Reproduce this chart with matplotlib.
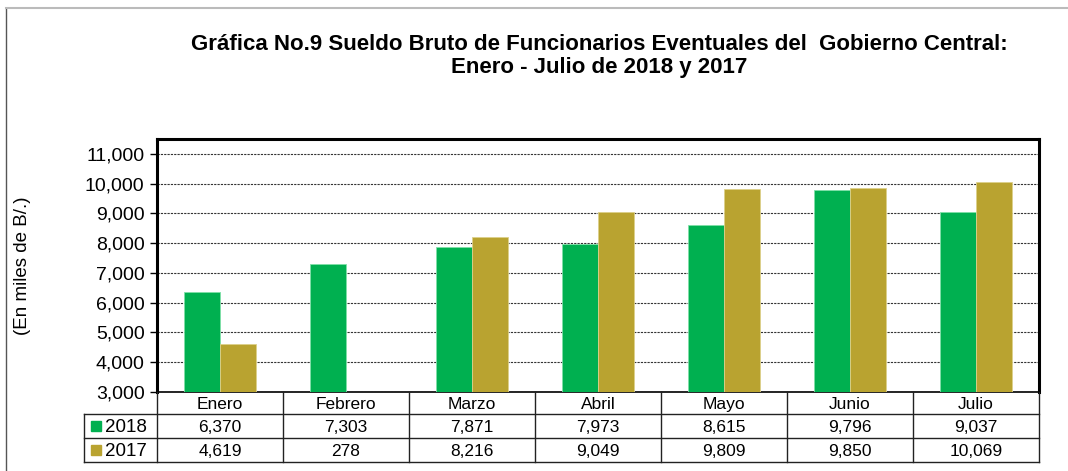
import numpy as np
import matplotlib
matplotlib.use("Agg")
from matplotlib import pyplot as plt
from matplotlib.lines import Line2D
from matplotlib.patches import Rectangle

# datos
meses = ["Enero", "Febrero", "Marzo", "Abril", "Mayo", "Junio", "Julio"]
anio_2018 = [6370, 7303, 7871, 7973, 8615, 9796, 9037]
anio_2017 = [4619, 278, 8216, 9049, 9809, 9850, 10069]
series = ["2018", "2017"]
colores = ["#00B050", "#B9A330"]

W, H = 1068, 471
plt.rcParams['font.family'] = ['Liberation Sans', 'DejaVu Sans']

fig = plt.figure(figsize=(W / 100, H / 100), dpi=100)

def fx(px):
    return px / W

def fy(py):
    return 1 - py / H

# borde exterior
fig.add_artist(Line2D([fx(6), fx(6)], [fy(8), 0], color="#555555", lw=1))
fig.add_artist(Line2D([fx(6), 1], [fy(8), fy(8)], color="#bbbbbb", lw=1.5))

izq, der, arriba, abajo = 157, 1039, 139, 392
ax = fig.add_axes([fx(izq), fy(abajo), fx(der - izq), fy(arriba) - fy(abajo)])

x = np.arange(len(meses))
ancho = 0.285
ax.bar(x - ancho / 2, anio_2018, ancho, color=colores[0], edgecolor="#7fe0a8", linewidth=0.6, zorder=3)
ax.bar(x + ancho / 2, anio_2017, ancho, color=colores[1], edgecolor="#ddd08a", linewidth=0.6, zorder=3)

ax.set_xlim(-0.5, len(meses) - 0.5)
ax.set_ylim(3000, 11500)
ax.set_yticks(np.arange(3000, 11001, 1000))
ax.set_yticklabels([f"{v:,}" for v in range(3000, 11001, 1000)], fontsize=14)
ax.set_xticks([])
ax.tick_params(axis="y", direction="out", length=5, width=1, pad=4)
ax.grid(axis="y", linestyle=(0, (2, 1)), color="#333333", linewidth=0.8, zorder=1)
for s in ["left", "top", "right"]:
    ax.spines[s].set_linewidth(2.2)
    ax.spines[s].set_color("black")
ax.spines["bottom"].set_linewidth(1.2)

ax.set_ylabel("(En miles de B/.)", fontsize=13.5)
ax.yaxis.set_label_coords(-(izq - 31) / (der - izq), 0.5)

# tabla de datos
leyenda_izq = 84
filas_y = [392, 414, 438, 462]
ancho_cat = (der - izq) / len(meses)
lc = "#222222"
for yy in filas_y[1:]:
    fig.add_artist(Line2D([fx(leyenda_izq), fx(der)], [fy(yy), fy(yy)], color=lc, lw=1))
fig.add_artist(Line2D([fx(leyenda_izq), fx(leyenda_izq)], [fy(414), fy(462)], color=lc, lw=1))
for i in range(len(meses) + 1):
    xx = izq + i * ancho_cat
    fig.add_artist(Line2D([fx(xx), fx(xx)], [fy(392), fy(462)], color=lc, lw=1))

tam = 12.5
for i, m in enumerate(meses):
    cx = izq + (i + 0.5) * ancho_cat
    fig.text(fx(cx), fy(403), m, ha="center", va="center_baseline", fontsize=tam)
    fig.text(fx(cx), fy(426), f"{anio_2018[i]:,}", ha="center", va="center_baseline", fontsize=tam)
    fig.text(fx(cx), fy(450), f"{anio_2017[i]:,}", ha="center", va="center_baseline", fontsize=tam)

for j, (nombre, col) in enumerate(zip(series, colores)):
    yc = [426, 450][j]
    fig.add_artist(Rectangle((fx(91), fy(yc + 5)), fx(10), fy(yc - 5) - fy(yc + 5), color=col))
    fig.text(fx(105), fy(yc), nombre, ha="left", va="center_baseline", fontsize=13.5)

fig.text(fx(599), fy(45), "Gráfica No.9 Sueldo Bruto de Funcionarios Eventuales del  Gobierno Central:",
         ha="center", va="center", fontsize=16, fontweight="bold")
fig.text(fx(599), fy(68), "Enero - Julio de 2018 y 2017",
         ha="center", va="center", fontsize=16, fontweight="bold")

fig.savefig("out.png", dpi=100)
